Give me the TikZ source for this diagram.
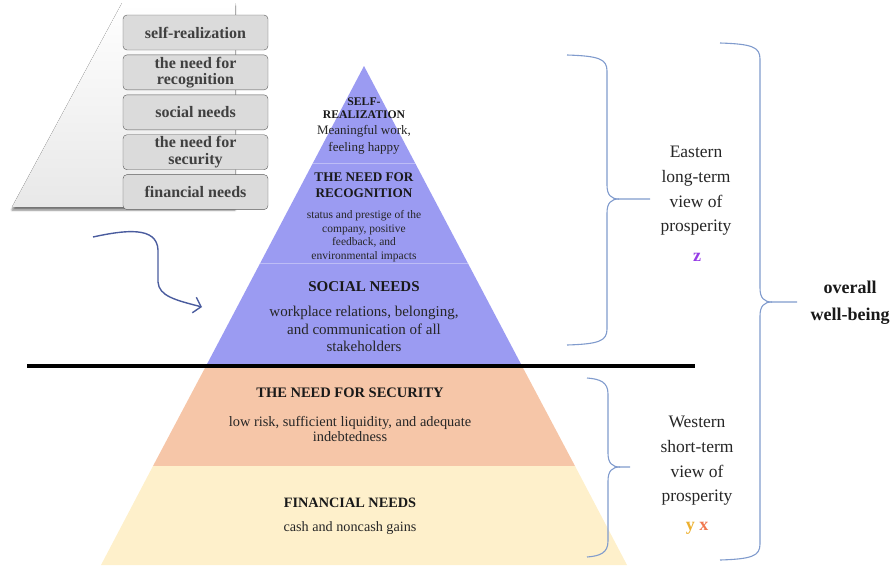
\documentclass[tikz,border=0pt]{standalone}
\usepackage{fontspec}
\setmainfont{Liberation Serif}
\usetikzlibrary{arrows.meta, positioning, shadows.blur}

\definecolor{pyrblue}{RGB}{155,155,242}
\definecolor{pyrpeach}{RGB}{246,198,168}
\definecolor{pyrcream}{RGB}{254,240,203}
\definecolor{bracecol}{RGB}{128,155,205}
\definecolor{arrowcol}{RGB}{74,92,158}
\definecolor{boxtext}{RGB}{64,64,64}
\definecolor{zcol}{RGB}{150,60,230}
\definecolor{ycol}{RGB}{236,176,48}
\definecolor{xcol}{RGB}{240,120,80}

\newcommand{\fsz}[2]{\fontsize{#1}{#2}\selectfont}

\tikzset{
    needbox/.style={draw=gray!70!black, fill=gray!28, rounded corners=4pt,
        minimum width=145pt, minimum height=35pt, inner sep=1pt, align=center,
        text=boxtext, font=\fsz{16}{16.5}\bfseries},
    layerhead/.style={align=center, text=black!90},
    layerbody/.style={align=center, text=black!85},
    sidetext/.style={align=center, text=black!85, font=\fsz{17.5}{24.7}},
    bracestyle/.style={draw=bracecol, line width=1.1pt},
}

% curly brace opening to the right: x0 ends, x1 spine, x2 tip, ytop, ymid, ybot
\newcommand{\longbrace}[6]{%
    \draw[bracestyle] (#1,#4) .. controls ({#2-8},{#4+1}) and (#2,{#4+4}) .. (#2,{#4+16})
        -- (#2,{#5-14}) .. controls (#2,{#5-4}) and ({#2+4},#5) .. ({#2+12},#5) -- (#3,#5);
    \draw[bracestyle] ({#2+12},#5) .. controls ({#2+4},#5) and (#2,{#5+4}) .. (#2,{#5+14})
        -- (#2,{#6-16}) .. controls (#2,{#6-4}) and ({#2-8},{#6-1}) .. (#1,#6);
}

\begin{document}
\begin{tikzpicture}[x=1pt, y=-1pt]
    \useasboundingbox (0,0) rectangle (893,565);

    % small panel with the five needs
    \fill[top color=white, bottom color=gray!18,
        blur shadow={shadow xshift=0pt, shadow yshift=-3pt, shadow blur radius=2pt, shadow opacity=55}]
        (12,207) -- (122,3) -- (235,3) -- (235,207) -- cycle;
    \node[needbox] (bself) at (195.5,32.5) {self-realization};
    \node[needbox, below=4.5pt of bself] (brec) {the need for\\recognition};
    \node[needbox, below=4.5pt of brec] (bsoc) {social needs};
    \node[needbox, below=4.5pt of bsoc] (bsec) {the need for\\security};
    \node[needbox, below=4.5pt of bsec] (bfin) {financial needs};

    % pyramid layers
    \coordinate (apex) at (364,66);
    \coordinate (l1) at (313,163);  \coordinate (r1) at (415,163);
    \coordinate (l2) at (260,263);  \coordinate (r2) at (468,263);
    \coordinate (l3) at (206,366);  \coordinate (r3) at (522,366);
    \coordinate (l4) at (153,466);  \coordinate (r4) at (575,466);
    \coordinate (l5) at (101,565);  \coordinate (r5) at (627,565);
    \fill[pyrblue] (apex) -- (r3) -- (l3) -- cycle;
    \fill[pyrpeach] (l3) -- (r3) -- (r4) -- (l4) -- cycle;
    \fill[pyrcream] (l4) -- (r4) -- (r5) -- (l5) -- cycle;
    \draw[white, opacity=.35, line width=1pt] (l1) -- (r1) (l2) -- (r2);

    \node[layerhead, font=\fsz{11.7}{13}\bfseries] (selfhead) at (364,108) {SELF-\\REALIZATION};
    \node[layerbody, font=\fsz{13}{16.5}] (selfbody) at (364,140) {Meaningful work,\\feeling happy};
    \node[layerhead, font=\fsz{13.2}{15.5}\bfseries] (rechead) at (364,185) {THE NEED FOR\\RECOGNITION};
    \node[layerbody, font=\fsz{11.5}{13.5}] (recbody) at (364,236) {status and prestige of the\\company, positive\\feedback, and\\environmental impacts};
    \node[layerhead, font=\fsz{15}{17}\bfseries] (sochead) at (364,287) {SOCIAL NEEDS};
    \node[layerbody, font=\fsz{15}{17.5}] (socbody) at (364,329) {workplace relations, belonging,\\and communication of all\\stakeholders};
    \node[layerhead, font=\fsz{14.5}{16}\bfseries] (sechead) at (350,393) {THE NEED FOR SECURITY};
    \node[layerbody, font=\fsz{14.4}{15.5}] (secbody) at (350,429) {low risk, sufficient liquidity, and adequate\\indebtedness};
    \node[layerhead, font=\fsz{14.3}{16}\bfseries] (finhead) at (350,503) {FINANCIAL NEEDS};
    \node[layerbody, font=\fsz{14.2}{16}] (finbody) at (350,528) {cash and noncash gains};

    % dividing line
    \coordinate (divl) at (27,366);
    \coordinate (divr) at (695,366);
    \draw[line width=4pt] (divl) -- (divr);

    % curved arrow from the panel to the pyramid
    \coordinate (arrstart) at (93,237);
    \coordinate (arrend) at (202,307);
    \draw[arrowcol, line width=1.4pt, -{Straight Barb[length=7pt, width=16pt]}]
        (arrstart) .. controls (125,230) and (157,226) .. (158,250) -- (158,282)
        .. controls (159,296) and (175,300) .. (arrend);

    % braces
    \longbrace{567}{607}{650}{55}{199}{345}
    \longbrace{587}{608}{630}{378}{467}{557}
    \longbrace{720}{760}{797}{43}{302}{560}

    \node[sidetext] (east) at (696,191) {Eastern\\long-term\\view of\\prosperity};
    \node[font=\fsz{18}{20}\bfseries, text=zcol] (zlab) at (697,257) {z};
    \node[sidetext] (west) at (697,461) {Western\\short-term\\view of\\prosperity};
    \node[font=\fsz{18}{20}\bfseries] (yxlab) at (697,528) {\textcolor{ycol}{y}~\textcolor{xcol}{x}};
    \node[align=center, text=black!90, font=\fsz{18}{27}\bfseries] (overall) at (850,303) {overall\\well-being};
\end{tikzpicture}
\end{document}
